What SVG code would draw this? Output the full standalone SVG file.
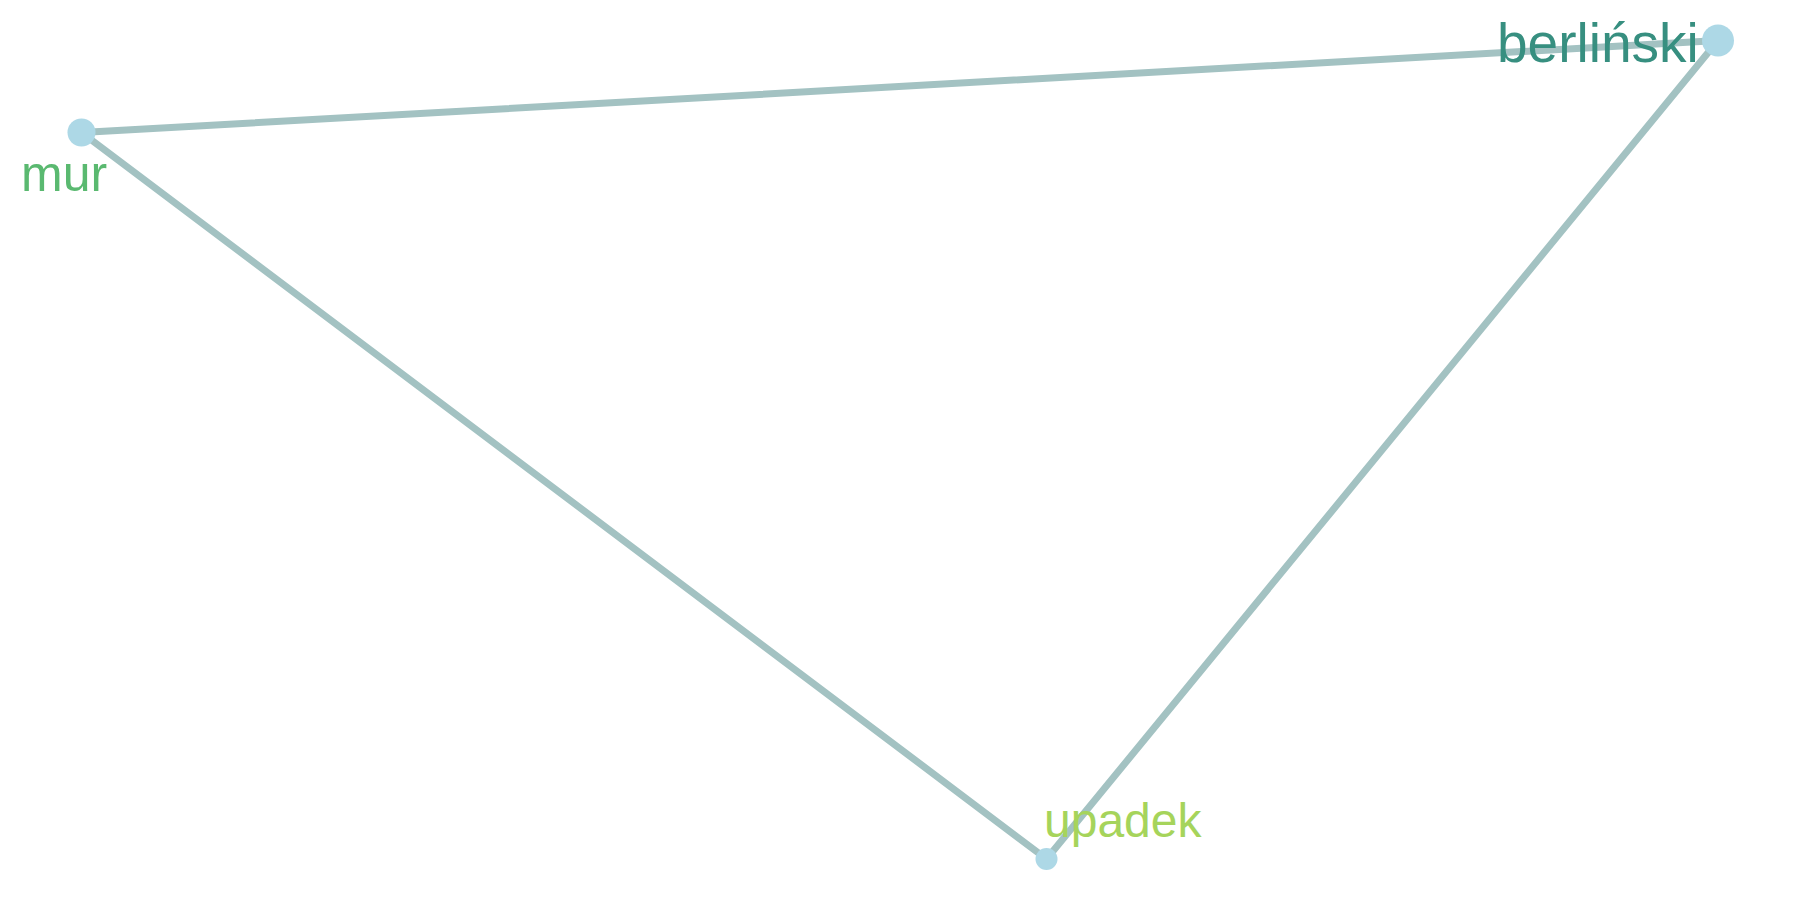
<svg xmlns="http://www.w3.org/2000/svg" width="1800" height="900" viewBox="0 0 1800 900">
<style>
.edge{stroke:#a3c2c2;stroke-width:7;stroke-linecap:round;fill:none}
.node{fill:#add8e6}
.lbl{font-family:"Liberation Sans",Arial,sans-serif}
</style>
<rect width="1800" height="900" fill="#ffffff"/>
<g id="edges">
<line class="edge" x1="81.5" y1="132.5" x2="1718" y2="40.5"/>
<line class="edge" x1="81.5" y1="132.5" x2="1046.5" y2="859"/>
<line class="edge" x1="1718" y1="40.5" x2="1046.5" y2="859"/>
</g>
<g id="node-mur">
<circle class="node" cx="81.5" cy="132.5" r="14"/>
<text class="lbl" x="21" y="191" font-size="50" fill="#5ab970">mur</text>
</g>
<g id="node-berlinski">
<circle class="node" cx="1718" cy="40.5" r="16"/>
<text class="lbl" x="1497" y="62" font-size="55" fill="#378f80">berliński</text>
</g>
<g id="node-upadek">
<circle class="node" cx="1046.5" cy="859" r="11"/>
<text class="lbl" x="1044" y="837" font-size="48" fill="#a6d45b">upadek</text>
</g>
</svg>
